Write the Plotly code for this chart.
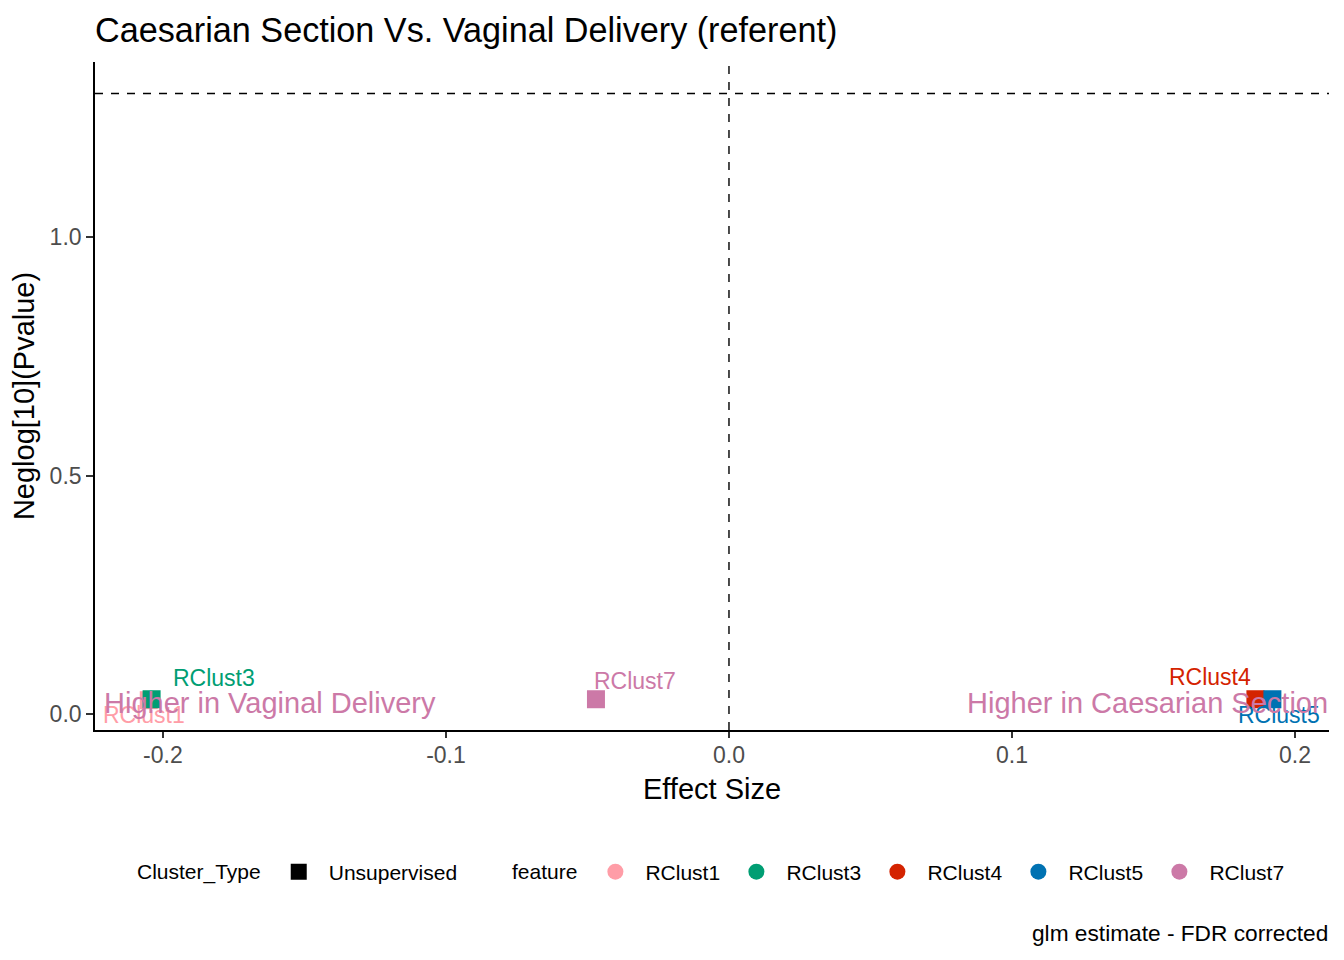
import numpy as np
import plotly.graph_objects as go

# ---- data ----
features = ["RClust1", "RClust3", "RClust4", "RClust5", "RClust7"]
effect_size = [-0.205, -0.204, 0.186, 0.192, -0.047]
neglog10_p = [0.029, 0.031, 0.031, 0.031, 0.031]
feature_colors = ["#FF9DA7", "#009E73", "#D42300", "#0072B2", "#CC79A7"]
cluster_type = "Unsupervised"
threshold = -np.log10(0.05)

# label offsets (pixels) mimicking ggrepel placement
label_dx = [-5, 62, -45, 7, 39]
label_dy = [-15, 21, 22, -16, 18]

x_ticks = [-0.2, -0.1, 0.0, 0.1, 0.2]
x_ticklabels = ["-0.2", "-0.1", "0.0", "0.1", "0.2"]
y_ticks = [0.0, 0.5, 1.0]
y_ticklabels = ["0.0", "0.5", "1.0"]

FONT = "Liberation Sans, Arial, sans-serif"

# page body has an 8px margin; compensate
W, H = 1336, 952
L, R, T, B = 87, 15, 54, 230
PW = W - L - R
PH = H - T - B

fig = go.Figure()

# data points (squares = Unsupervised cluster type)
for f, x, y, c in zip(features, effect_size, neglog10_p, feature_colors):
    fig.add_trace(go.Scatter(
        x=[x], y=[y], mode="markers",
        marker=dict(symbol="square", size=18, color=c, line=dict(width=0)),
        showlegend=False, hoverinfo="skip"))

# legend 1: Cluster_Type
fig.add_trace(go.Scatter(
    x=[None], y=[None], mode="markers", name=cluster_type,
    marker=dict(symbol="square", size=18, color="black"),
    legend="legend"))
# legend 2: feature
for f, c in zip(features, feature_colors):
    fig.add_trace(go.Scatter(
        x=[None], y=[None], mode="markers", name=f,
        marker=dict(symbol="circle", size=18, color=c),
        legend="legend2"))

annotations = []
for f, x, y, c, dx, dy in zip(features, effect_size, neglog10_p, feature_colors, label_dx, label_dy):
    annotations.append(dict(
        x=x, y=y, xref="x", yref="y", text=f, showarrow=False,
        xshift=dx, yshift=dy, font=dict(family=FONT, size=23, color=c)))

annotations.append(dict(
    x=0, y=0.023, xref="paper", yref="y", text="Higher in Vaginal Delivery",
    showarrow=False, xanchor="left", yanchor="middle", xshift=7,
    font=dict(family=FONT, size=29, color="#CC79A7")))
annotations.append(dict(
    x=1, y=0.023, xref="paper", yref="y", text="Higher in Caesarian Section",
    showarrow=False, xanchor="right", yanchor="middle", xshift=1,
    font=dict(family=FONT, size=29, color="#CC79A7")))

# caption
annotations.append(dict(
    x=1, y=(730 - 933) / PH, xref="paper", yref="paper", yanchor="middle", xanchor="right",
    text="glm estimate - FDR corrected", showarrow=False, xshift=1,
    font=dict(family=FONT, size=22.7, color="black")))

shapes = [
    dict(type="line", xref="x", yref="paper", x0=0, x1=0, y0=0, y1=1,
         line=dict(color="black", width=1.4, dash="8px,8px")),
    dict(type="line", xref="paper", yref="y", x0=0, x1=1, y0=threshold, y1=threshold,
         line=dict(color="black", width=1.4, dash="8px,8px")),
]

fig.update_layout(
    width=W, height=H,
    margin=dict(l=L, r=R, t=T, b=B),
    paper_bgcolor="white", plot_bgcolor="white",
    font=dict(family=FONT, color="black"),
    title=dict(text="Caesarian Section Vs. Vaginal Delivery (referent)",
               x=(95 - 8) / W, xanchor="left", xref="container",
               y=1 - (30 - 8) / H, yanchor="middle", yref="container",
               font=dict(family=FONT, size=34.2, color="black")),
    xaxis=dict(range=[-0.224, 0.212], tickvals=x_ticks, ticktext=x_ticklabels,
               showgrid=False, zeroline=False, showline=True, linecolor="black",
               linewidth=1.6, ticks="outside", ticklen=6, tickwidth=1.6, tickcolor="#333333",
               ticklabelstandoff=-2,
               tickfont=dict(family=FONT, size=23, color="#4D4D4D"),
               title=dict(text="Effect Size", standoff=11,
                          font=dict(family=FONT, size=29, color="black"))),
    yaxis=dict(range=[-0.0335, 1.367], tickvals=y_ticks, ticktext=y_ticklabels,
               showgrid=False, zeroline=False, showline=True, linecolor="black",
               linewidth=1.6, ticks="outside", ticklen=7, tickwidth=1.6, tickcolor="#333333",
               tickfont=dict(family=FONT, size=23, color="#4D4D4D"),
               title=dict(text="Neglog[10](Pvalue)", standoff=6,
                          font=dict(family=FONT, size=29, color="black"))),
    legend=dict(orientation="h", x=(137 - 95 - 2) / PW, y=(730 - 872) / PH,
                xanchor="left", yanchor="middle", bgcolor="rgba(0,0,0,0)",
                itemwidth=50,
                title=dict(text="Cluster_Type", side="left",
                           font=dict(family=FONT, size=21, color="black")),
                font=dict(family=FONT, size=21, color="black")),
    legend2=dict(orientation="h", x=(514 - 95 - 4) / PW, y=(730 - 872) / PH,
                 xanchor="left", yanchor="middle", bgcolor="rgba(0,0,0,0)",
                 itemwidth=50, entrywidth=76, entrywidthmode="pixels",
                 title=dict(text="feature", side="left",
                            font=dict(family=FONT, size=21, color="black")),
                 font=dict(family=FONT, size=21, color="black")),
    annotations=annotations,
    shapes=shapes,
)

fig.write_html("out.html")
